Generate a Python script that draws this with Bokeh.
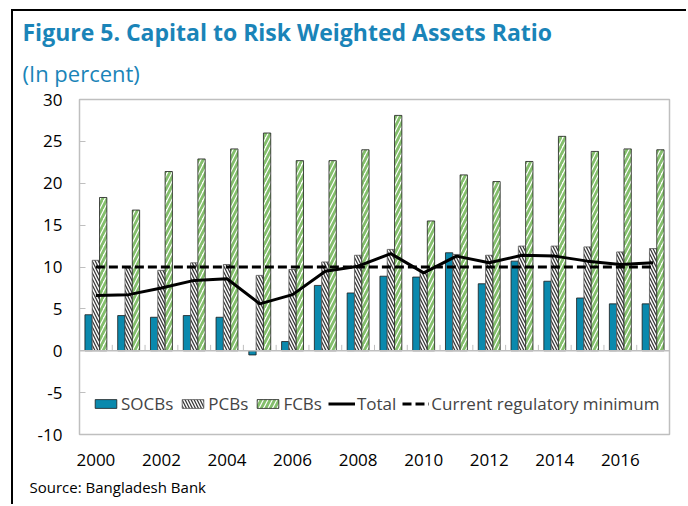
from bokeh.plotting import figure
from bokeh.models import (ColumnDataSource, Legend, LegendItem, FixedTicker,
                          Span, Title)
from bokeh.embed import file_html
from bokeh.resources import INLINE

years = list(range(2000, 2018))
socbs = [4.3, 4.2, 4.0, 4.2, 4.0, -0.5, 1.1, 7.8, 6.9, 8.9, 8.8, 11.7, 8.0, 10.7, 8.3, 6.3, 5.6, 5.6]
pcbs = [10.8, 9.9, 9.6, 10.5, 10.3, 9.0, 9.7, 10.6, 11.4, 12.1, 9.4, 11.5, 11.4, 12.5, 12.5, 12.4, 11.8, 12.2]
fcbs = [18.3, 16.8, 21.4, 22.9, 24.1, 26.0, 22.7, 22.7, 24.0, 28.1, 15.5, 21.0, 20.2, 22.6, 25.6, 23.8, 24.1, 24.0]
total = [6.6, 6.7, 7.5, 8.4, 8.6, 5.6, 6.7, 9.5, 10.1, 11.6, 9.3, 11.3, 10.5, 11.4, 11.3, 10.7, 10.3, 10.5]
minimum = [10.0] * len(years)
year_labels = [str(y) for y in years]
y_ticks = [-10, -5, 0, 5, 10, 15, 20, 25, 30]
y_tick_labels = ["-10", "-5", "0", "5", "10", "15", "20", "25", "30"]

FONT = "Open Sans"
TITLE_COL = "#1A84B8"

idx = list(range(len(years)))
bw = 0.223
src = ColumnDataSource(dict(
    i=idx,
    xs=[i - bw for i in idx],
    xp=idx,
    xf=[i + bw for i in idx],
    socbs=socbs, pcbs=pcbs, fcbs=fcbs, total=total, minimum=minimum,
))

p = figure(width=675, height=495, output_backend="svg", toolbar_location=None,
           x_range=(-0.5, len(years) - 0.5), y_range=(-10, 30),
           min_border_left=66, min_border_right=19, min_border_top=88, min_border_bottom=72)
p.styles = {"margin-left": "11px", "margin-top": "9px",
            "border-left": "2px solid black", "border-top": "2px solid black"}
p.outline_line_color = "#BFBFBF"
p.outline_line_width = 1.5
p.xgrid.visible = False
p.ygrid.visible = False
p.background_fill_color = "white"
p.border_fill_color = "white"

# y axis
p.yaxis.ticker = FixedTicker(ticks=y_ticks)
p.yaxis.major_label_overrides = dict(zip(y_ticks, y_tick_labels))
p.yaxis.axis_line_color = None
p.yaxis.major_tick_in = 6
p.yaxis.major_tick_out = 0
p.yaxis.major_tick_line_color = "#BFBFBF"
p.yaxis.minor_tick_line_color = None
p.yaxis.major_label_standoff = 17
p.yaxis.major_label_text_font = FONT
p.yaxis.major_label_text_font_size = "17px"
p.yaxis.major_label_text_color = "black"

# x axis
p.xaxis.ticker = FixedTicker(ticks=idx[::2])
p.xaxis.major_label_overrides = {i: year_labels[i] for i in idx[::2]}
p.xaxis.axis_line_color = None
p.xaxis.major_tick_line_color = None
p.xaxis.major_tick_in = 0
p.xaxis.major_tick_out = 0
p.xaxis.minor_tick_line_color = None
p.xaxis.major_label_standoff = 19
p.xaxis.major_label_text_font = FONT
p.xaxis.major_label_text_font_size = "17px"
p.xaxis.major_label_text_color = "black"

# zero line and category ticks
p.add_layout(Span(location=0, dimension="width", line_color="#BFBFBF", line_width=1.5))
bnd = [i - 0.5 for i in idx[1:]]
p.segment(x0=bnd, x1=bnd, y0=[0] * len(bnd), y1=[0.7] * len(bnd),
          line_color="#BFBFBF", line_width=1)

r_s = p.vbar(x="xs", top="socbs", bottom=0, width=bw, source=src,
             fill_color="#0A89AD", line_color="#1a1a1a", line_width=0.8)
r_p = p.vbar(x="xp", top="pcbs", bottom=0, width=bw, source=src,
             fill_color="white", line_color="#555555", line_width=0.8,
             hatch_pattern="\\", hatch_color="#3a3a3a", hatch_weight=1.3, hatch_scale=6)
r_f = p.vbar(x="xf", top="fcbs", bottom=0, width=bw, source=src,
             fill_color="white", line_color="#1a1a1a", line_width=0.8,
             hatch_pattern="/", hatch_color="#84BF6C", hatch_weight=2.8, hatch_scale=9)
r_t = p.line(x="i", y="total", source=src, line_color="black", line_width=3)
r_m = p.line(x="i", y="minimum", source=src, line_color="black", line_width=3,
             line_dash="9 4")

legend = Legend(items=[
    LegendItem(label="SOCBs", renderers=[r_s]),
    LegendItem(label="PCBs", renderers=[r_p]),
    LegendItem(label="FCBs", renderers=[r_f]),
    LegendItem(label="Total", renderers=[r_t]),
    LegendItem(label="Current regulatory minimum", renderers=[r_m]),
], orientation="horizontal", location=(13, 19))
legend.background_fill_alpha = 0
legend.border_line_color = None
legend.padding = 0
legend.margin = 0
legend.spacing = 6
legend.label_standoff = 2
legend.glyph_width = 27
legend.glyph_height = 11
legend.label_text_font = FONT
legend.label_text_font_size = "17px"
legend.label_height = 20
p.add_layout(legend, "center")

# titles and source
p.add_layout(Title(text="(In percent)", align="left", offset=-57, standoff=24,
                   text_font=FONT, text_font_style="normal",
                   text_font_size="22px", text_color=TITLE_COL), "above")
p.add_layout(Title(text="Figure 5. Capital to Risk Weighted Assets Ratio", align="left",
                   offset=-57, standoff=-8, text_font=FONT, text_font_style="bold",
                   text_font_size="23px", text_color=TITLE_COL), "above")
p.add_layout(Title(text="Source: Bangladesh Bank", align="left", offset=-50, standoff=13,
                   text_font=FONT, text_font_style="normal",
                   text_font_size="15px", text_color="black"), "below")

open("out.html", "w").write(file_html(p, INLINE))
